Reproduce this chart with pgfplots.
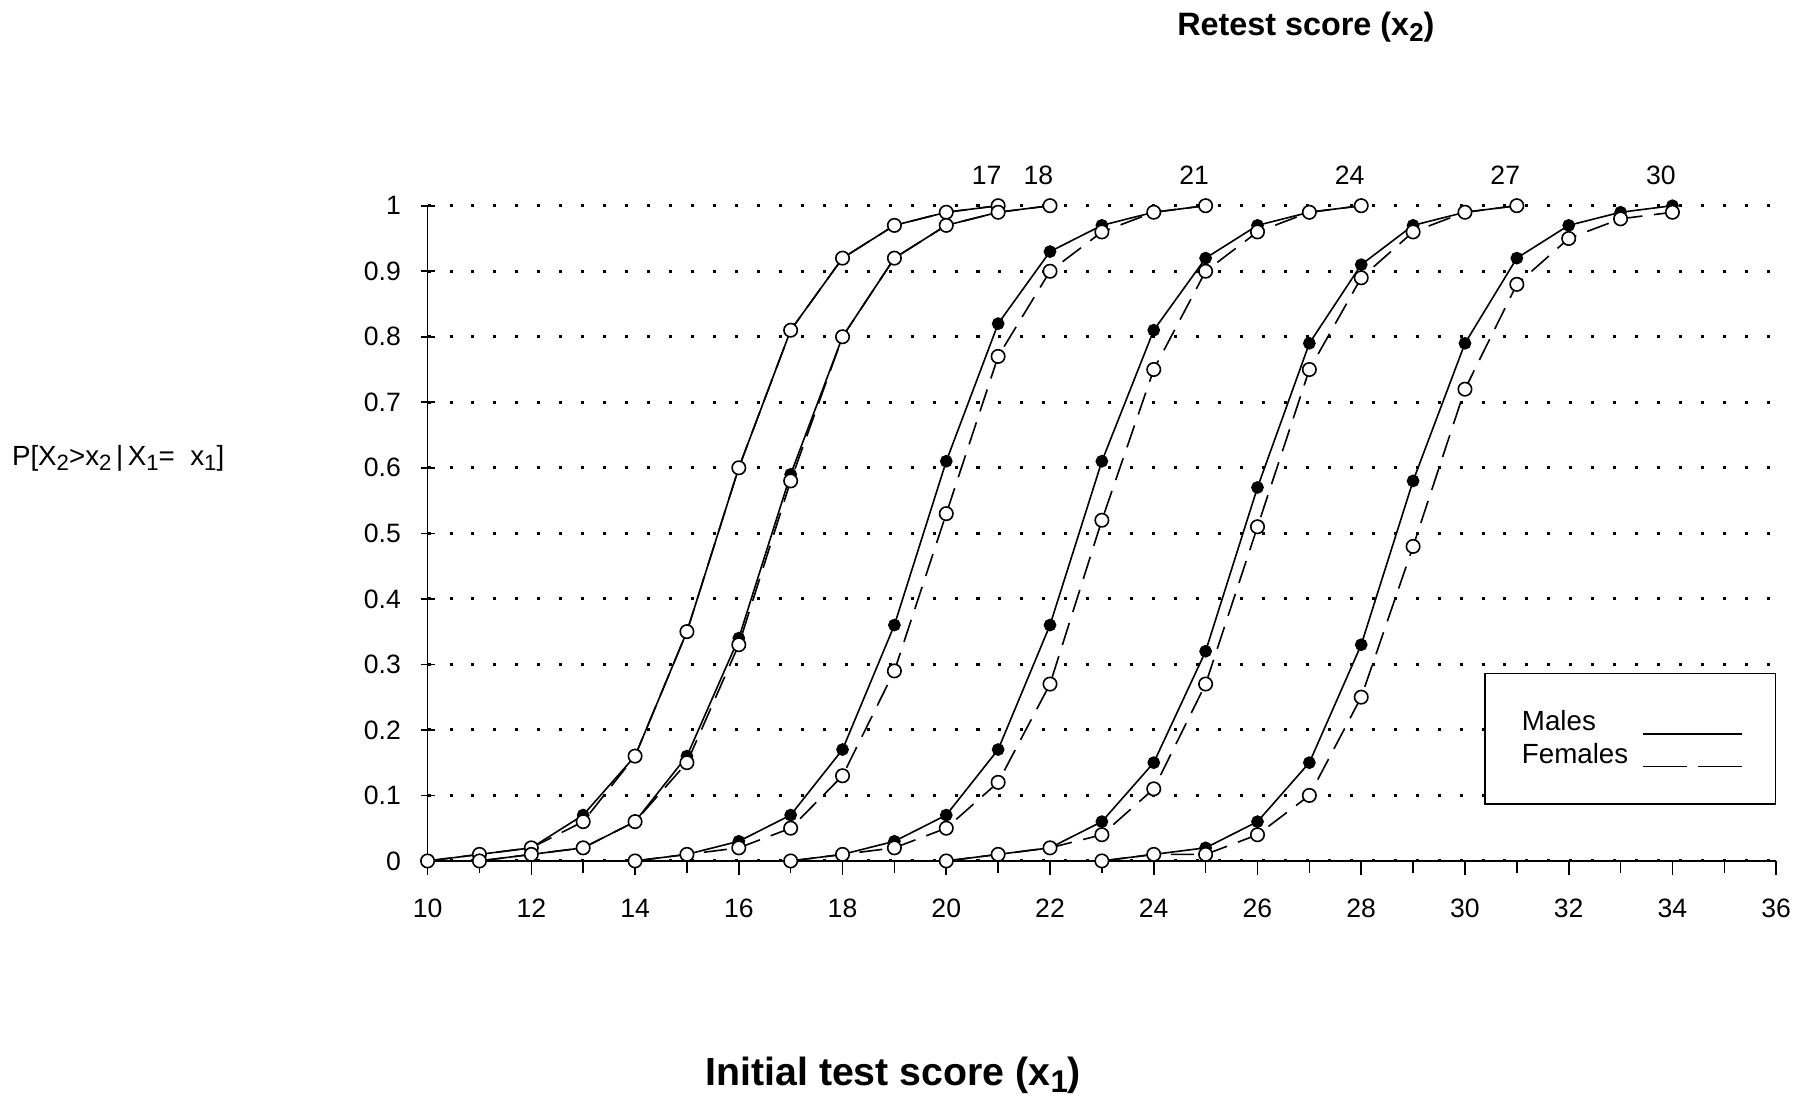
\documentclass[border=0pt]{standalone}
\usepackage{fontspec}
\setmainfont{Liberation Sans}
\usepackage{pgfplots}
\usepackage{pgfplotstable}
\pgfplotsset{compat=1.18}

\pgfplotstableread{
x m f
10 0 0
11 0.01 0.01
12 0.02 0.02
13 0.07 0.06
14 0.16 0.16
15 0.35 0.35
16 0.60 0.60
17 0.81 0.81
18 0.92 0.92
19 0.97 0.97
20 0.99 0.99
21 1.00 1.00
}\cA
\pgfplotstableread{
x m f
11 0 0
12 0.01 0.01
13 0.02 0.02
14 0.06 0.06
15 0.16 0.15
16 0.34 0.33
17 0.59 0.58
18 0.80 0.80
19 0.92 0.92
20 0.97 0.97
21 0.99 0.99
22 1.00 1.00
}\cB
\pgfplotstableread{
x m f
14 0 0
15 0.01 0.01
16 0.03 0.02
17 0.07 0.05
18 0.17 0.13
19 0.36 0.29
20 0.61 0.53
21 0.82 0.77
22 0.93 0.90
23 0.97 0.96
24 0.99 0.99
25 1.00 1.00
}\cC
\pgfplotstableread{
x m f
17 0 0
18 0.01 0.01
19 0.03 0.02
20 0.07 0.05
21 0.17 0.12
22 0.36 0.27
23 0.61 0.52
24 0.81 0.75
25 0.92 0.90
26 0.97 0.96
27 0.99 0.99
28 1.00 1.00
}\cD
\pgfplotstableread{
x m f
20 0 0
21 0.01 0.01
22 0.02 0.02
23 0.06 0.04
24 0.15 0.11
25 0.32 0.27
26 0.57 0.51
27 0.79 0.75
28 0.91 0.89
29 0.97 0.96
30 0.99 0.99
31 1.00 1.00
}\cE
\pgfplotstableread{
x m f
23 0 0
24 0.01 0.01
25 0.02 0.01
26 0.06 0.04
27 0.15 0.10
28 0.33 0.25
29 0.58 0.48
30 0.79 0.72
31 0.92 0.88
32 0.97 0.95
33 0.99 0.98
34 1.00 0.99
}\cF

\newcommand{\sub}[1]{\raisebox{-0.35ex}{\scalebox{0.8}{#1}}}

\begin{document}
\begin{tikzpicture}
\useasboundingbox (-185pt,-102.5pt) rectangle (599pt,372.5pt);
\begin{axis}[
  at={(0pt,0pt)}, anchor=south west,
  scale only axis, width=583.5pt, height=283.5pt,
  xmin=10, xmax=36, ymin=0, ymax=1,
  clip=false,
  axis x line=bottom, axis y line=left,
  axis line style={-, line width=0.8pt},
  xtick={10,12,...,36}, minor xtick={11,13,...,35},
  ytick={0,0.1,...,1.0},
  x tick style={line width=0.7pt, black},
  y tick style={line width=0.7pt, black},
  xtick align=outside, ytick align=center,
  major tick length=6pt, minor tick length=5pt,
  tick label style={font=\fontsize{11.5}{12}\selectfont},
  /pgf/number format/assume math mode=true,
  /pgf/number format/fixed,
  xticklabel style={yshift=-7pt},
  yticklabel style={xshift=-5pt},
  ymajorgrids,
  major grid style={black, line width=1.3pt, dash pattern=on 1.3pt off 8.2pt},
  legend plot pos=right,
  legend cell align=left,
  legend image code/.code={\draw[#1] (0pt,-5pt) -- (43pt,-5pt);},
  legend style={at={(axis cs:30.37,0.2875)}, anchor=north west, draw=black, line width=0.7pt,
    fill=white, font=\fontsize{12}{13}\selectfont, inner xsep=14pt, inner ysep=14pt,
    row sep=0pt, column sep=4pt},
  male/.style={forget plot, black, line width=0.7pt, solid, mark=*, mark size=2.4pt, mark options={solid, fill=black}},
  female/.style={forget plot, black, line width=0.7pt, dash pattern=on 10pt off 5pt, mark=*, mark size=2.9pt, mark options={solid, draw=black, fill=white, line width=0.7pt}},
]
\addlegendimage{black, line width=0.7pt, solid}
\addlegendentry{Males}
\addlegendimage{black, line width=0.7pt, dash pattern=on 19pt off 5pt}
\addlegendentry{Females}

\addplot[male] table[x=x, y=m] {\cA};
\addplot[female] table[x=x, y=f] {\cA};
\addplot[male] table[x=x, y=m] {\cB};
\addplot[female] table[x=x, y=f] {\cB};
\addplot[male] table[x=x, y=m] {\cC};
\addplot[female] table[x=x, y=f] {\cC};
\addplot[male] table[x=x, y=m] {\cD};
\addplot[female] table[x=x, y=f] {\cD};
\addplot[male] table[x=x, y=m] {\cE};
\addplot[female] table[x=x, y=f] {\cE};
\addplot[male] table[x=x, y=m] {\cF};
\addplot[female] table[x=x, y=f] {\cF};

\node[font=\fontsize{11.5}{12}\selectfont, anchor=base] at ([xshift=-5pt,yshift=9pt]axis cs:21,1) {17};
\node[font=\fontsize{11.5}{12}\selectfont, anchor=base] at ([xshift=-5pt,yshift=9pt]axis cs:22,1) {18};
\node[font=\fontsize{11.5}{12}\selectfont, anchor=base] at ([xshift=-5pt,yshift=9pt]axis cs:25,1) {21};
\node[font=\fontsize{11.5}{12}\selectfont, anchor=base] at ([xshift=-5pt,yshift=9pt]axis cs:28,1) {24};
\node[font=\fontsize{11.5}{12}\selectfont, anchor=base] at ([xshift=-5pt,yshift=9pt]axis cs:31,1) {27};
\node[font=\fontsize{11.5}{12}\selectfont, anchor=base] at ([xshift=-5pt,yshift=9pt]axis cs:34,1) {30};
\end{axis}

\node[anchor=base, font=\bfseries\fontsize{14}{16}\selectfont] at (380pt,357pt) {Retest score (x\sub{2})};
\node[anchor=base, font=\bfseries\fontsize{17}{19}\selectfont] at (201.5pt,-97pt) {Initial test score (x\sub{1})};
\node[anchor=base west, inner sep=0pt, font=\fontsize{12}{13}\selectfont] at (-180pt,171pt) {P[X\sub{2}>x\sub{2}\,|\,X\sub{1}= \ x\sub{1}]};
\end{tikzpicture}
\end{document}
